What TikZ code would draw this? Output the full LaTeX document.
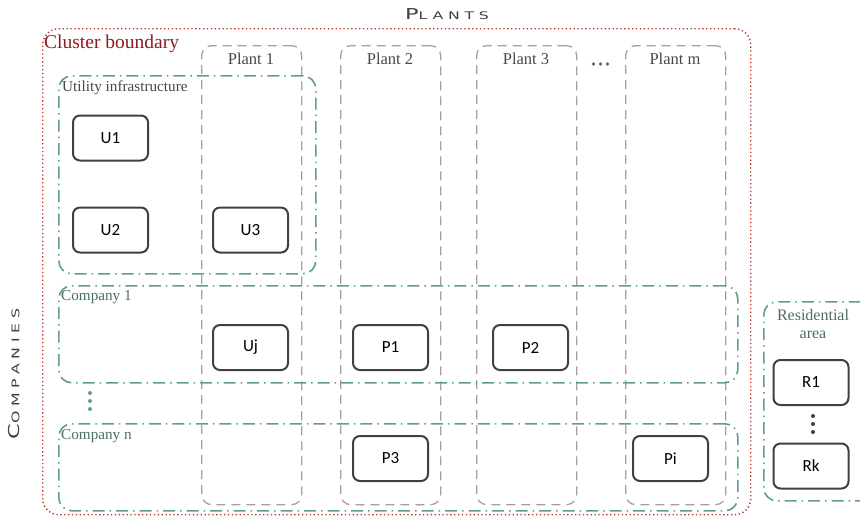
\documentclass[tikz,border=0pt]{standalone}
\usepackage{fontspec}
\setmainfont{Liberation Serif}
\newfontfamily\boxfont{Carlito}
\newfontfamily\capfont[LetterSpace=30]{DejaVu Sans}
\definecolor{boxgray}{HTML}{404040}
\definecolor{plantgray}{HTML}{A69DAB}
\definecolor{grpgreen}{HTML}{5E9E8A}
\definecolor{clred}{HTML}{B8322A}
\definecolor{labgray}{HTML}{4A4450}
\definecolor{labgreen}{HTML}{4A6E66}
\definecolor{darkred}{HTML}{8E1B1B}
\tikzset{
  ubox/.style={draw=boxgray, line width=2pt, rounded corners=7pt, minimum width=75pt,
    minimum height=45pt, inner sep=0pt, font=\boxfont\fontsize{17}{17}\selectfont, text=black},
  plantcol/.style={draw=plantgray, line width=1.3pt, dash pattern=on 9pt off 6pt,
    rounded corners=10pt, anchor=north west, inner sep=0pt, minimum width=100pt, minimum height=459pt},
  grp/.style={draw=grpgreen, line width=1.6pt, dash pattern=on 12pt off 5pt on 1.5pt off 5pt,
    rounded corners=13pt, anchor=north west, inner sep=0pt},
  cluster/.style={draw=clred, line width=1.4pt, dash pattern=on 1.3pt off 2.6pt,
    rounded corners=16pt, anchor=north west, inner sep=0pt},
  plabel/.style={text=labgray, font=\fontsize{16.5}{17}\selectfont, inner sep=0pt},
  glabel/.style={text=labgreen, font=\fontsize{15.2}{16}\selectfont, inner sep=0pt, anchor=west},
  gdot/.style={circle, fill=grpgreen, inner sep=0pt, minimum size=4pt},
  kdot/.style={circle, fill=boxgray, inner sep=0pt, minimum size=4pt},
}
\begin{document}
\begin{tikzpicture}[x=1pt, y=-1pt]
\useasboundingbox (0,0) rectangle (860,517);

% cluster boundary
\node[cluster, minimum width=708pt, minimum height=486pt] (cl) at (42,28) {};
\node[text=darkred, font=\fontsize{19.5}{20}\selectfont, inner sep=0pt, anchor=west] (cllab) at (44,44) {Cluster boundary};

% plants
\node[plantcol] (pl1) at (201,45) {};
\node[plantcol] (pl2) at (340,45) {};
\node[plantcol] (pl3) at (476,45) {};
\node[plantcol] (plm) at (625,45) {};
\node[plabel] (pl1lab) at (251,59) {Plant 1};
\node[plabel] (pl2lab) at (390,59) {Plant 2};
\node[plabel] (pl3lab) at (526,59) {Plant 3};
\node[plabel] (plmlab) at (675,59) {Plant m};
\node[circle, fill=labgray!80, inner sep=0pt, minimum size=3.8pt] (hd1) at (593.5,64) {};
\node[circle, fill=labgray!80, inner sep=0pt, minimum size=3.8pt] (hd2) at (600.5,64) {};
\node[circle, fill=labgray!80, inner sep=0pt, minimum size=3.8pt] (hd3) at (607.5,64) {};

% groups
\node[grp, minimum width=257pt, minimum height=198pt] (util) at (58,75) {};
\node[glabel, text=labgray] (utillab) at (62,88) {Utility infrastructure};
\node[grp, minimum width=679pt, minimum height=97pt] (comp1) at (58,285) {};
\node[glabel] (comp1lab) at (61,297) {Company 1};
\node[grp, minimum width=679pt, minimum height=87pt] (compn) at (58,423) {};
\node[glabel] (compnlab) at (61,436) {Company n};
\node[gdot] (vd1) at (90,393) {};
\node[gdot] (vd2) at (90,401) {};
\node[gdot] (vd3) at (90,409) {};

% residential area
\node[grp, minimum width=110pt, minimum height=199pt] (res) at (763,301) {};
\node[text=labgreen, font=\fontsize{16}{18}\selectfont, inner sep=0pt, align=center] (reslab) at (813,324) {Residential\\area};
\node[kdot] (rd1) at (813,416) {};
\node[kdot] (rd2) at (813,424) {};
\node[kdot] (rd3) at (813,432) {};

% boxes
\node[ubox] (U1) at (110.5,138) {U1};
\node[ubox] (U2) at (110.5,230) {U2};
\node[ubox] (U3) at (250.5,230) {U3};
\node[ubox] (Uj) at (250.5,347.5) {Uj};
\node[ubox] (P1) at (390.5,347.5) {P1};
\node[ubox] (P2) at (530.5,347.5) {P2};
\node[ubox] (P3) at (390.5,458.5) {P3};
\node[ubox] (Pi) at (670.5,458.5) {Pi};
\node[ubox] (R1) at (811,382.5) {R1};
\node[ubox] (Rk) at (811,466) {Rk};

% axis titles
\node[text=boxgray, inner sep=0pt] (plants) at (447,14) {\scalebox{1.5}[1]{\capfont\fontsize{15}{15}\selectfont P\fontsize{10.5}{11}\selectfont LANTS}};
\node[text=boxgray, inner sep=0pt, rotate=90] (companies) at (14,374) {\scalebox{1.5}[1]{\capfont\fontsize{15}{15}\selectfont C\fontsize{10.5}{11}\selectfont OMPANIES}};
\end{tikzpicture}
\end{document}
